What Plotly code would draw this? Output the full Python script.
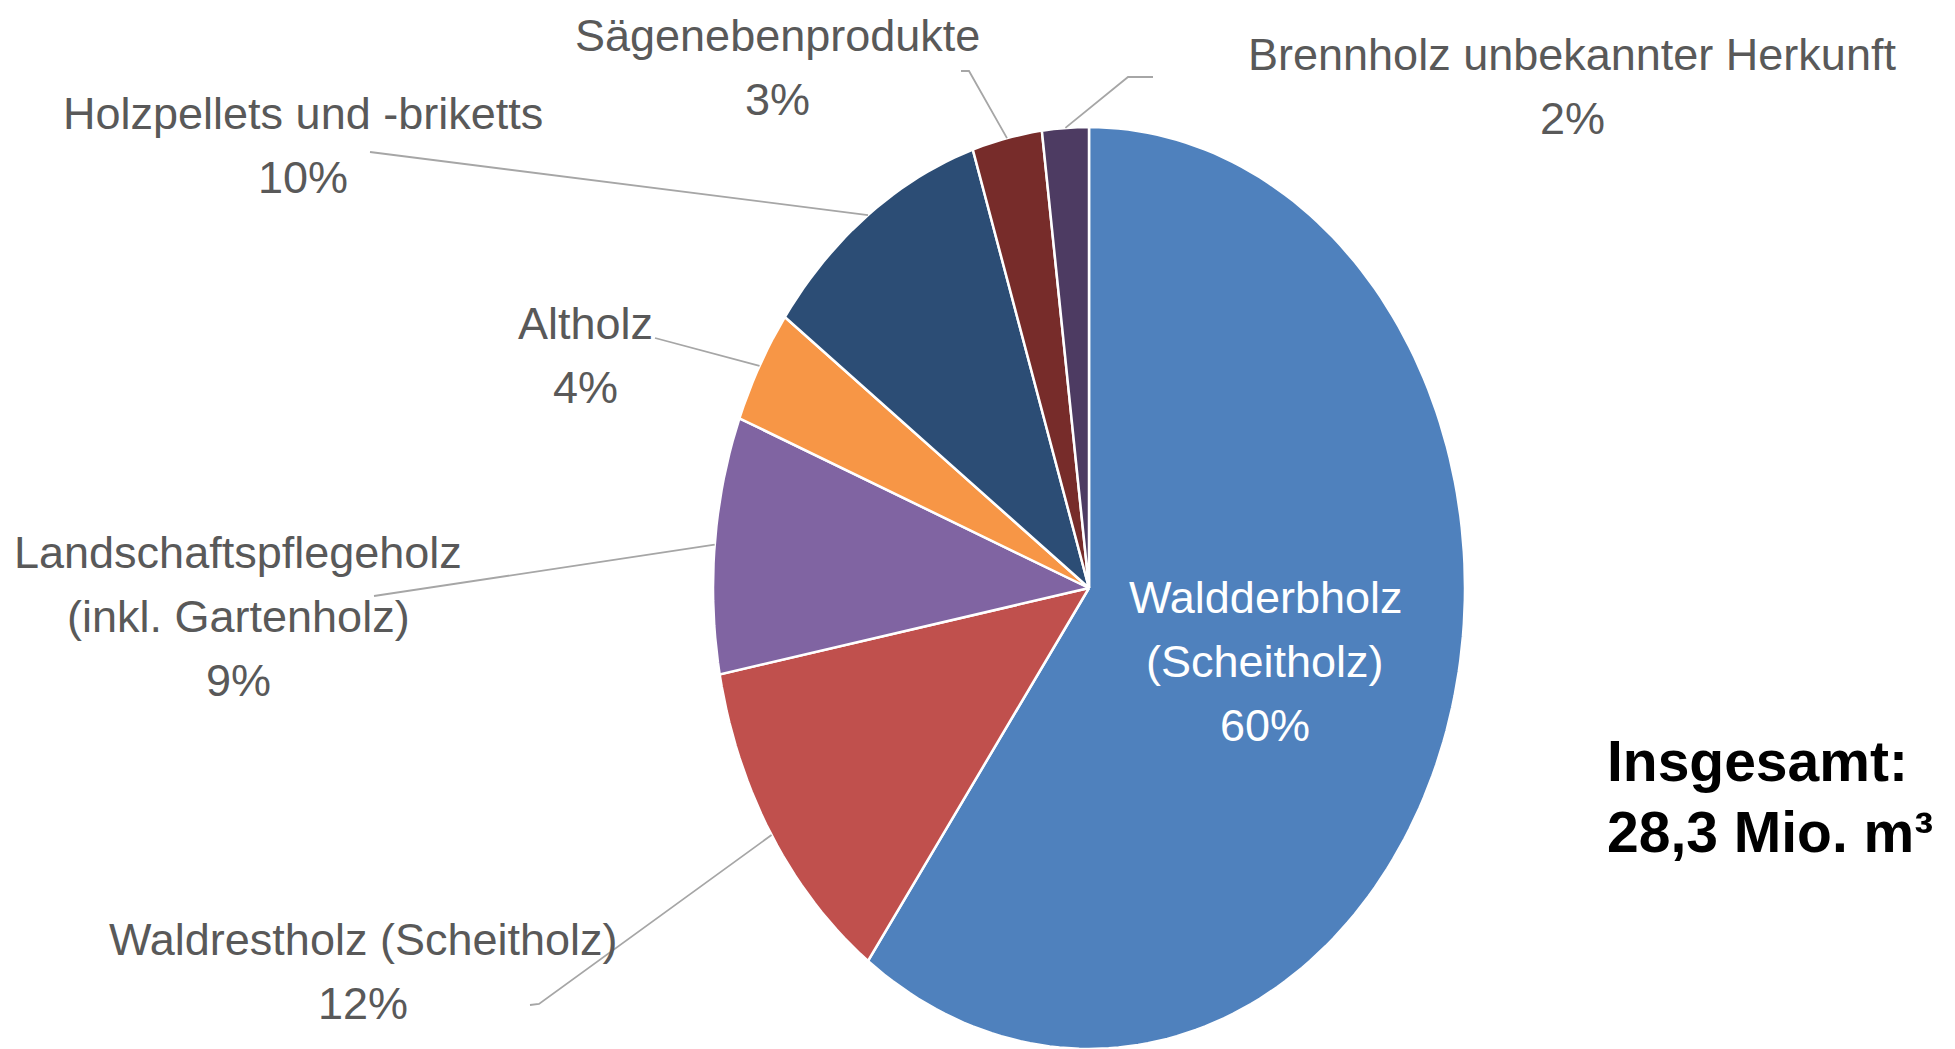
import math
import plotly.graph_objects as go

# ---------------- data ----------------
categories = [
    "Waldderbholz (Scheitholz)",
    "Waldrestholz (Scheitholz)",
    "Landschaftspflegeholz (inkl. Gartenholz)",
    "Altholz",
    "Holzpellets und -briketts",
    "Sägenebenprodukte",
    "Brennholz unbekannter Herkunft",
]
label_lines = [
    ["Waldderbholz", "(Scheitholz)"],
    ["Waldrestholz (Scheitholz)"],
    ["Landschaftspflegeholz", "(inkl. Gartenholz)"],
    ["Altholz"],
    ["Holzpellets und -briketts"],
    ["Sägenebenprodukte"],
    ["Brennholz unbekannter Herkunft"],
]
shares = [60, 12, 9, 4, 10, 3, 2]
total_lines = ["Insgesamt:", "28,3 Mio. m³"]

# ---------------- styles / layout ----------------
colors = ["#4F81BD", "#C0504D", "#8064A2", "#F79646", "#2C4D75", "#772C2A", "#4D3B62"]
W, H = 1955, 1049
OFF = 8  # page body margin of the html page
CX, CY, RX, RY = 1089, 588, 376, 461  # pie centre and radii in screen pixels

# label centre x and centre of the first line (screen pixels)
label_pos = [(1265, 597), (363, 939), (238, 552), (585, 323), (303, 113), (777, 35), (1572, 54)]
LINE_PITCH = 64
leader_pts = [None, [(539, 1004), (530, 1005)], [(374, 596)], [(655, 338)],
              [(370, 152)], [(969, 71), (961, 71)], [(1128, 77), (1153, 77)]]
label_colors = ["white"] + ["#595959"] * 6
FONT = "Liberation Sans, Arial, sans-serif"
FONT_SIZE = 45


def X(px):
    return (px - CX) / RX


def Y(py):
    return (CY - py) / RY


fig = go.Figure()
total = sum(shares)
cum = 0.0
mids = []
for name, val, col in zip(categories, shares, colors):
    a0 = cum / total * 2 * math.pi
    a1 = (cum + val) / total * 2 * math.pi
    n = max(4, int(240 * val / total))
    xs, ys = [0.0], [0.0]
    for i in range(n + 1):
        a = a0 + (a1 - a0) * i / n
        xs.append(math.sin(a))
        ys.append(math.cos(a))
    xs.append(0.0)
    ys.append(0.0)
    fig.add_trace(go.Scatter(x=xs, y=ys, fill="toself", fillcolor=col, mode="lines",
                             line=dict(color="white", width=2.5), name=name,
                             hoveron="fills", text=f"{name}: {val}%", hoverinfo="text",
                             showlegend=False))
    mids.append((a0 + a1) / 2)
    cum += val

# leader lines
for i, pts in enumerate(leader_pts):
    if not pts:
        continue
    m = mids[i]
    xs = [math.sin(m)] + [X(p[0]) for p in pts]
    ys = [math.cos(m)] + [Y(p[1]) for p in pts]
    fig.add_trace(go.Scatter(x=xs, y=ys, mode="lines", line=dict(color="#A6A6A6", width=1.8),
                             hoverinfo="skip", showlegend=False))

annotations = []
for lines, val, pos, col in zip(label_lines, shares, label_pos, label_colors):
    for k, line in enumerate(lines + [f"{val}%"]):
        annotations.append(dict(text=line, x=X(pos[0]), y=Y(pos[1] + k * LINE_PITCH),
                                xref="x", yref="y", showarrow=False,
                                xanchor="center", yanchor="middle",
                                font=dict(family=FONT, size=FONT_SIZE, color=col)))
for k, line in enumerate(total_lines):
    annotations.append(dict(text=f"<b>{line}</b>", x=X(1605), y=Y(761 + k * 71), xref="x", yref="y",
                            showarrow=False, xanchor="left", yanchor="middle",
                            font=dict(family=FONT, size=57, color="black")))

fig.update_layout(
    width=W, height=H, margin=dict(l=0, r=0, t=0, b=0),
    paper_bgcolor="white", plot_bgcolor="white",
    xaxis=dict(range=[X(OFF), X(OFF + W)], visible=False, domain=[0, 1], fixedrange=True),
    yaxis=dict(range=[Y(OFF + H), Y(OFF)], visible=False, domain=[0, 1], fixedrange=True),
    annotations=annotations, showlegend=False,
)
fig.write_html("out.html")
